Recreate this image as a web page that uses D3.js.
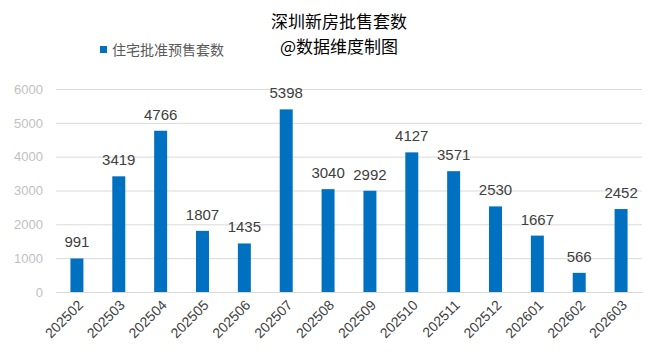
<!DOCTYPE html>
<html><head><meta charset="utf-8">
<script src="https://cdn.jsdelivr.net/npm/d3@7/dist/d3.min.js"></script>
<style>body{margin:0;background:#fff}svg{display:block}.cjk{font-family:"Noto Sans CJK SC",sans-serif}.lat{font-family:"Liberation Sans",Arial,sans-serif}</style>
</head><body><svg id="c" width="658" height="360"></svg>
<script>
const categories = ["202502","202503","202504","202505","202506","202507","202508","202509","202510","202511","202512","202601","202602","202603"];
const values = [991,3419,4766,1807,1435,5398,3040,2992,4127,3571,2530,1667,566,2452];
const yTicks = [0,1000,2000,3000,4000,5000,6000];
const title = "深圳新房批售套数";
const subtitle = "@数据维度制图";
const seriesName = "住宅批准预售套数";

(function(){
const svg = d3.select("#c");
const pl = 56, pr = 642, pt = 89, pb = 292;
const x = d3.scaleBand().domain(categories).range([pl, pr]).paddingInner(0.69).paddingOuter(0.345);
const y = d3.scaleLinear().domain([0, 6000]).range([pb, pt]);

svg.append("text").attr("class","cjk").attr("x", 339).attr("y", 28).attr("text-anchor","middle")
  .attr("font-size", 17).attr("fill", "#000").text(title);
svg.append("text").attr("class","cjk").attr("x", 339).attr("y", 53).attr("text-anchor","middle")
  .attr("font-size", 17).attr("fill", "#000").text(subtitle);

svg.append("rect").attr("x", 100).attr("y", 46).attr("width", 7).attr("height", 7).attr("fill", "#0070C0");
svg.append("text").attr("class","cjk").attr("x", 112).attr("y", 55).attr("font-size", 14).attr("fill", "#595959").text(seriesName);

const yAxis = d3.axisLeft(y).tickValues(yTicks).tickFormat(d3.format("d")).tickSize(-(pr-pl)).tickPadding(13);
const gy = svg.append("g").attr("transform", `translate(${pl},0)`).call(yAxis);
gy.attr("font-family", null);
gy.select(".domain").remove();
gy.selectAll(".tick line").attr("stroke", "#d9d9d9");
gy.selectAll(".tick text").attr("class","lat").attr("font-size", 13).attr("fill", "#bfbfbf");

const xAxis = d3.axisBottom(x).tickSize(0).tickPadding(0);
const gx = svg.append("g").attr("transform", `translate(0,${pb})`).call(xAxis);
gx.attr("font-family", null);
gx.select(".domain").attr("stroke", "#d9d9d9");
gx.selectAll(".tick text").attr("class","lat").attr("font-size", 14).attr("fill", "#404040")
  .attr("text-anchor", "end").attr("dy", 0)
  .attr("transform", "translate(7,14) rotate(-45)");

svg.append("g").selectAll("rect").data(values).join("rect")
  .attr("x", (d,i) => x(categories[i])).attr("y", d => y(d))
  .attr("width", x.bandwidth()).attr("height", d => pb - y(d))
  .attr("fill", "#0070C0");

svg.append("g").selectAll("text").data(values).join("text")
  .attr("class","lat")
  .attr("x", (d,i) => x(categories[i]) + x.bandwidth()/2).attr("y", d => y(d) - 11)
  .attr("text-anchor", "middle").attr("font-size", 15).attr("fill", "#404040")
  .text(d => d);
})();
</script></body></html>
